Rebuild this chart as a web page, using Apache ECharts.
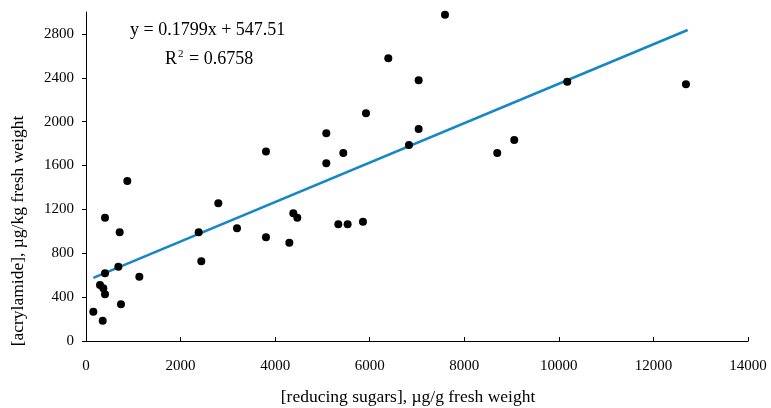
<!DOCTYPE html>
<html>
<head>
<meta charset="utf-8">
<script src="https://cdn.jsdelivr.net/npm/echarts@6/dist/echarts.min.js"></script>
<style>
html,body{margin:0;padding:0;background:#fff;}
#chart{width:771px;height:408px;}
</style>
</head>
<body>
<div id="chart"></div>
<script>
// [reducing sugars] (µg/g) and [acrylamide] (µg/kg)
const sugars = [155, 353, 296, 366, 402, 402, 402, 712, 684, 740, 1128, 874,
  2383, 2438, 2798, 3193, 3806, 3806, 4300, 4384, 4469, 5082, 5082, 5336,
  5441, 5533, 5857, 5921, 6830, 7035, 7592, 6393, 7035, 8697, 9057, 10178, 12688];
const acrylamide = [267, 185, 511, 480, 426, 617, 1125, 991, 678, 335, 587, 1459,
  991, 727, 1256, 1028, 1727, 946, 897, 1165, 1125, 1894, 1621, 1064,
  1715, 1064, 1088, 2077, 1788, 1934, 2976, 2578, 2378, 1715, 1833, 2365, 2341];
// trend line end points
const trendX = [155, 12724];
const trendY = [575, 2836];
const yTicks = [0, 400, 800, 1200, 1600, 2000, 2400, 2800];
const xTitle = '[reducing sugars], µg/g fresh weight';
const yTitle = '[acrylamide], µg/kg fresh weight';
const eqText = 'y = 0.1799x + 547.51';
const r2Text = '{a|R}{s|2}{a| = 0.6758}';

const FONT = '"Liberation Serif", "DejaVu Serif", serif';
const plain = v => String(v);
const chart = echarts.init(document.getElementById('chart'));
chart.setOption({
  animation: false,
  backgroundColor: '#fff',
  grid: {left: 86, right: 23, top: 12, bottom: 67},
  xAxis: {
    type: 'value', min: 0, max: 14000, interval: 2000,
    axisLine: {show: true, lineStyle: {color: '#000', width: 1}},
    axisTick: {show: true, inside: true, length: 4, lineStyle: {color: '#000'}},
    axisLabel: {color: '#000', fontFamily: FONT, fontSize: 15, margin: 18, formatter: plain},
    splitLine: {show: false}
  },
  yAxis: {
    type: 'value', min: 0, max: 3000, interval: 400,
    axisLine: {show: true, lineStyle: {color: '#000', width: 1}},
    axisTick: {show: true, inside: false, length: 4, lineStyle: {color: '#000'}, customValues: yTicks},
    axisLabel: {color: '#000', fontFamily: FONT, fontSize: 15, margin: 12, customValues: yTicks, formatter: plain},
    splitLine: {show: false}
  },
  series: [
    {
      type: 'line',
      data: trendX.map((x, i) => [x, trendY[i]]),
      showSymbol: false,
      symbol: 'none',
      lineStyle: {color: '#1586c8', width: 2.5},
      z: 2
    },
    {
      type: 'scatter',
      data: sugars.map((x, i) => [x, acrylamide[i]]),
      symbol: 'circle',
      symbolSize: 8,
      itemStyle: {color: '#000', opacity: 1},
      z: 3
    }
  ],
  graphic: [
    {type: 'text', x: 408, y: 397,
      style: {text: xTitle, font: '17.5px ' + FONT, fill: '#000', align: 'center', verticalAlign: 'middle'}},
    {type: 'text', x: 18, y: 231, rotation: Math.PI / 2,
      style: {text: yTitle, font: '17.5px ' + FONT, fill: '#000', align: 'center', verticalAlign: 'middle'}},
    {type: 'text', x: 130, y: 30,
      style: {text: eqText, font: '18px ' + FONT, fill: '#000', verticalAlign: 'middle'}},
    {type: 'text', x: 165, y: 59,
      style: {text: r2Text, fill: '#000', verticalAlign: 'middle',
        rich: {a: {fontFamily: FONT, fontSize: 18, color: '#000'},
               s: {fontFamily: FONT, fontSize: 11, color: '#000', verticalAlign: 'top', padding: [0, 1, 10, 1]}}}}
  ]
});
</script>
</body>
</html>
